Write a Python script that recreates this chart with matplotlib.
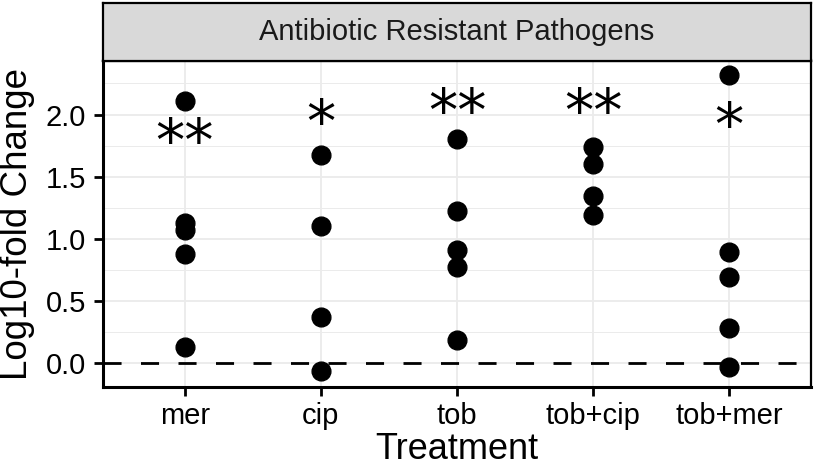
import matplotlib
matplotlib.use("Agg")
import matplotlib.pyplot as plt

treatments = ["mer", "cip", "tob", "tob+cip", "tob+mer"]
log_change = [
    [2.11, 1.13, 1.07, 0.88, 0.13],
    [1.67, 1.10, 0.37, -0.07],
    [1.80, 1.22, 0.91, 0.77, 0.18],
    [1.74, 1.60, 1.34, 1.19],
    [2.32, 0.89, 0.69, 0.28, -0.03],
]
sig_labels = ["**", "*", "**", "**", "*"]
sig_y = [1.85, 2.00, 2.09, 2.09, 1.98]
panel_title = "Antibiotic Resistant Pathogens"

plt.rcParams["font.family"] = ["Liberation Sans", "DejaVu Sans"]

W, H = 814, 468
fig = plt.figure(figsize=(W / 100, H / 100), dpi=100)
left, right, top, bottom = 103, 811, 60.5, 387
ax = fig.add_axes([left / W, 1 - bottom / H, (right - left) / W, (bottom - top) / H])
strip = fig.add_axes([left / W, 1 - top / H, (right - left) / W, (top - 3) / H])

# grid
ax.set_axisbelow(True)
ax.set_yticks([0, 0.5, 1.0, 1.5, 2.0])
ax.set_yticks([0.25, 0.75, 1.25, 1.75, 2.25], minor=True)
ax.grid(True, which="major", color="#EBEBEB", linewidth=1.3)
ax.grid(True, which="minor", axis="y", color="#EBEBEB", linewidth=0.7)

ax.axhline(0, color="black", linewidth=2.0, dashes=(6.5, 7), zorder=2)

for i, vals in enumerate(log_change):
    ax.plot([i] * len(vals), vals, "o", color="black", markersize=13.5,
            linestyle="none", zorder=3)

for i, (lab, y) in enumerate(zip(sig_labels, sig_y)):
    ax.annotate(lab, (i, y), xytext=(0, -8), textcoords="offset points",
                ha="center", va="center", fontsize=42, color="black",
                family="DejaVu Sans", zorder=4)

ax.set_xlim(-0.6, 4.6)
ax.set_ylim(-0.195, 2.435)
ax.set_xticks(range(len(treatments)))
ax.set_xticklabels(treatments)
ax.set_yticklabels(["0.0", "0.5", "1.0", "1.5", "2.0"])
ax.tick_params(axis="both", which="major", length=6.5, width=2.0, color="black",
               labelsize=21, labelcolor="black")
ax.tick_params(axis="y", which="major", pad=5.5)
ax.tick_params(axis="x", which="major", pad=4)
ax.tick_params(which="minor", length=0)

for s in ["top", "right"]:
    ax.spines[s].set_linewidth(1.6)
for s in ["left", "bottom"]:
    ax.spines[s].set_linewidth(2.2)

ax.set_xlabel("Treatment", fontsize=26, va="baseline")
ax.xaxis.set_label_coords(0.5, (bottom - 459) / (bottom - top))
ax.set_ylabel("Log10-fold Change", fontsize=26.5, va="baseline")
ax.yaxis.set_label_coords((27 - left) / (right - left), 0.5)

# facet strip
strip.set_facecolor("#D9D9D9")
strip.set_xticks([])
strip.set_yticks([])
for s in strip.spines.values():
    s.set_linewidth(1.6)
strip.text(0.5, 0.5, panel_title, ha="center", va="center", fontsize=21,
           color="#1A1A1A", transform=strip.transAxes)

fig.savefig("out.png", dpi=100)
